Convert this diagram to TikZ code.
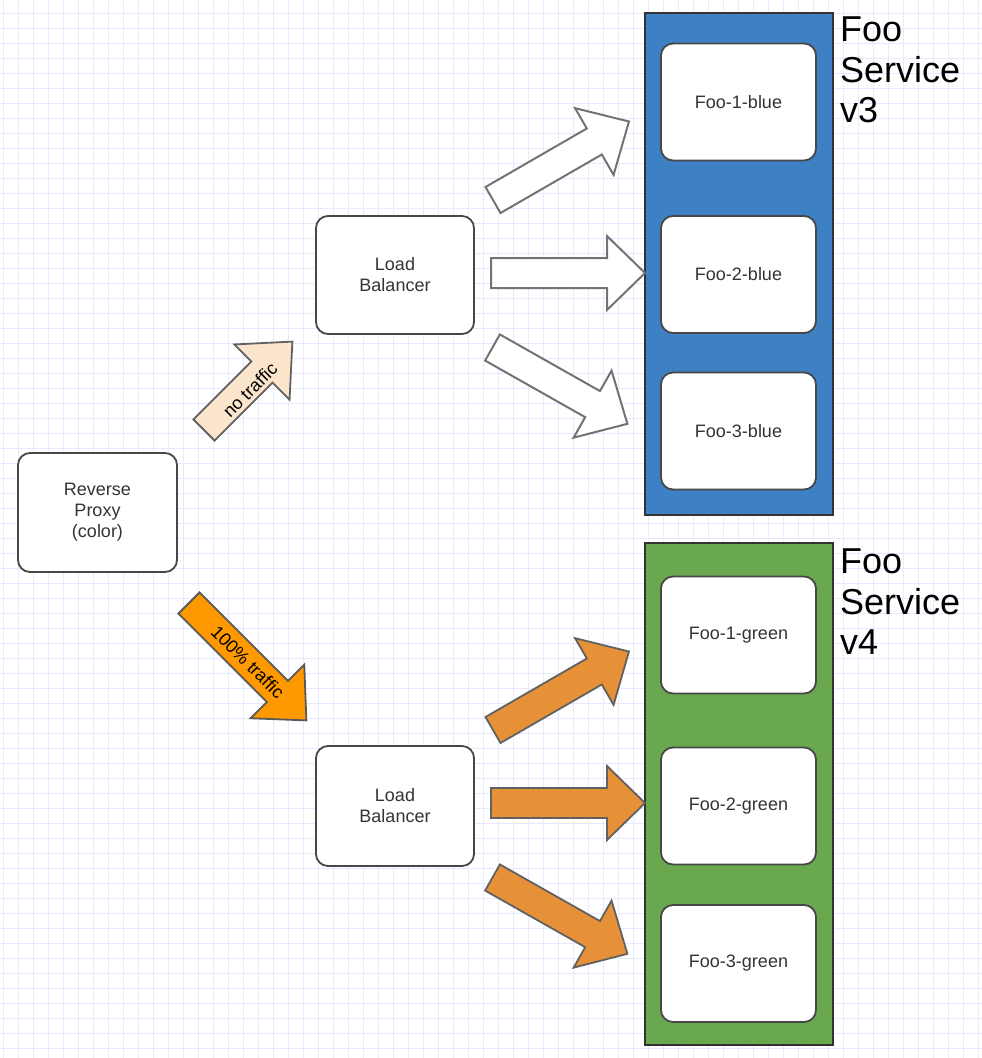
\documentclass[tikz,border=0pt]{standalone}
\usepackage{fontspec}
\setmainfont{Liberation Sans}
\definecolor{gridc}{RGB}{232,232,255}
\definecolor{svcblue}{HTML}{3D80C4}
\definecolor{svcgreen}{HTML}{6AA84F}
\definecolor{arrorange}{HTML}{E69138}
\definecolor{brightorange}{HTML}{FF9900}
\definecolor{peach}{HTML}{FCE5CD}
\definecolor{boxtext}{HTML}{333333}
% block arrow: tail x, tail y, angle, length, shaft width, head width, head length, style
\newcommand{\blkarrow}[8]{%
  \begin{scope}[shift={(#1,#2)},rotate=#3]
    \draw[#8] (0,-#5/2) -- ({#4-#7},-#5/2) -- ({#4-#7},-#6/2) -- (#4,0)
      -- ({#4-#7},#6/2) -- ({#4-#7},#5/2) -- (0,#5/2) -- cycle;
  \end{scope}}
\tikzset{
  gridline/.style={gridc, line width=1.5pt},
  container/.style={draw=black!80, line width=2pt, minimum width=188pt, minimum height=502pt, inner sep=0pt},
  svcbox/.style={draw=black!72, fill=white, line width=1.8pt, rounded corners=12pt,
    minimum width=155pt, minimum height=117pt, inner sep=0pt, align=center,
    text=boxtext, font=\fontsize{18}{21}\selectfont},
  whitearrow/.style={fill=white, draw=black!55, line width=2pt, line join=miter},
  orangearrow/.style={fill=arrorange, draw=black!62, line width=1.8pt, line join=miter},
  arrtext/.style={font=\fontsize{18}{20}\selectfont, inner sep=0pt},
  biglabel/.style={font=\fontsize{36}{40.5}\selectfont, align=left, anchor=north west, inner sep=0pt}
}
\begin{document}
\begin{tikzpicture}[x=1pt,y=-1pt]
\useasboundingbox (0,0) rectangle (982,1058);
\fill[white] (0,0) rectangle (982,1058);
% grid
\foreach \i in {0,...,65} {
  \draw[gridline] ({3.3+15*\i},0) -- ({3.3+15*\i},1058);
}
\foreach \j in {0,...,71} {
  \draw[gridline] (0,{13.3+15*\j}) -- (982,{13.3+15*\j});
}

% containers
\node[container, fill=svcblue] (blue) at (739,264) {};
\node[container, fill=svcgreen] (green) at (739,794) {};

% service boxes
\node[svcbox] (b1) at (738.5,102) {Foo-1-blue};
\node[svcbox] (b2) at (738.5,274.5) {Foo-2-blue};
\node[svcbox] (b3) at (738.5,431) {Foo-3-blue};
\node[svcbox] (g1) at (738.5,635) {Foo-1-green};
\node[svcbox] (g2) at (738.5,806) {Foo-2-green};
\node[svcbox] (g3) at (738.5,963.5) {Foo-3-green};

% labels
\node[biglabel] (lv3) at (840,17) {Foo\\Service\\v3};
\node[biglabel] (lv4) at (840,549) {Foo\\Service\\v4};

% proxy and load balancers
\node[svcbox, minimum width=159pt, minimum height=119pt] (rp) at (97.5,512.5) {Reverse\\Proxy\\(color)};
\node[svcbox, minimum width=158pt, minimum height=118pt] (lb1) at (395,275) {Load\\Balancer};
\node[svcbox, minimum width=158pt, minimum height=120pt] (lb2) at (395,806) {Load\\Balancer};

% arrows from the proxy
\blkarrow{204}{430}{45}{125}{30}{78}{43}{fill=peach, draw=black!62, line width=1.8pt}
\node[arrtext, rotate=45] (nt) at (250,390) {no traffic};
\blkarrow{189}{603}{-45}{166}{30}{76}{41}{fill=brightorange, draw=black!65, line width=1.8pt}
\node[arrtext, rotate=-45] (ht) at (248,662) {100\% traffic};

% arrows from top load balancer
\blkarrow{493}{200}{30}{157}{30}{77}{40}{whitearrow}
\blkarrow{491}{273}{0}{154}{30}{74}{38}{whitearrow}
\blkarrow{492.5}{347.5}{-29.5}{155}{30}{77}{40}{whitearrow}

% arrows from bottom load balancer
\blkarrow{493}{730}{30}{157}{30}{77}{40}{orangearrow}
\blkarrow{491}{803}{0}{154}{30}{74}{38}{orangearrow}
\blkarrow{492.5}{877.5}{-29.5}{155}{30}{77}{40}{orangearrow}
\end{tikzpicture}
\end{document}
